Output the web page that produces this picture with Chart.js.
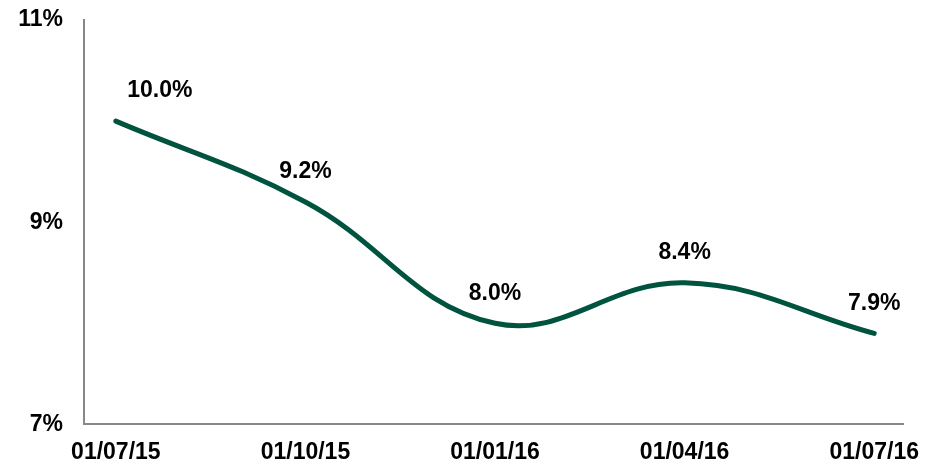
<!DOCTYPE html>
<html><head><meta charset="utf-8">
<script src="https://cdn.jsdelivr.net/npm/chart.js@4/dist/chart.umd.min.js"></script>
<style>html,body{margin:0;padding:0;background:#fff}#w{width:934px;height:467px}</style>
</head><body><div id="w"><canvas id="c" width="934" height="467"></canvas></div>
<script>
const categories = ["01/07/15","01/10/15","01/01/16","01/04/16","01/07/16"];
const rates = [10.0, 9.2, 8.0, 8.4, 7.9];
const yTicks = [7, 9, 11];

const FONT = '"Liberation Sans", Arial, sans-serif';

const labelPlugin = {
  id: 'labels',
  afterDatasetsDraw(chart) {
    const ctx = chart.ctx;
    const meta = chart.getDatasetMeta(0);
    ctx.save();
    ctx.font = 'bold 23px ' + FONT;
    ctx.fillStyle = '#000';
    ctx.textAlign = 'center';
    ctx.textBaseline = 'middle';
    meta.data.forEach((pt, i) => {
      const dx = i === 0 ? 44 : 0;
      ctx.fillText(rates[i].toFixed(1) + '%', pt.x + dx, pt.y - 30);
    });
    ctx.restore();
  }
};

new Chart(document.getElementById('c'), {
  type: 'line',
  data: {
    datasets: [{
      data: rates.map((v, i) => ({x: i, y: v})),
      borderColor: '#00533F',
      borderWidth: 5,
      borderCapStyle: 'round',
      pointRadius: 0,
      tension: 0.4,
      fill: false
    }]
  },
  options: {
    responsive: false,
    animation: false,
    layout: {padding: {left: 0, right: 29, top: 20, bottom: -13}},
    plugins: {legend: {display: false}, tooltip: {enabled: false}},
    scales: {
      x: {
        type: 'linear',
        min: -0.168, max: 4.153,
        afterBuildTicks: (ax) => { ax.ticks = categories.map((c, i) => ({value: i})); },
        ticks: {
          callback: (v) => categories[v],
          font: {family: FONT, size: 23, weight: 'bold'},
          color: '#000', maxRotation: 0, padding: 14
        },
        grid: {display: false, drawTicks: false},
        border: {color: '#888', width: 2}
      },
      y: {
        min: 7, max: 11,
        afterBuildTicks: (ax) => { ax.ticks = yTicks.map(v => ({value: v})); },
        afterFit: (ax) => { ax.width = 84; ax.paddingTop = 0; ax.paddingBottom = 0; },
        ticks: {
          callback: (v) => v + '%',
          font: {family: FONT, size: 23, weight: 'bold'},
          color: '#000', padding: 21
        },
        grid: {display: false, drawTicks: false},
        border: {color: '#888', width: 2}
      }
    }
  },
  plugins: [labelPlugin]
});
</script></body></html>
